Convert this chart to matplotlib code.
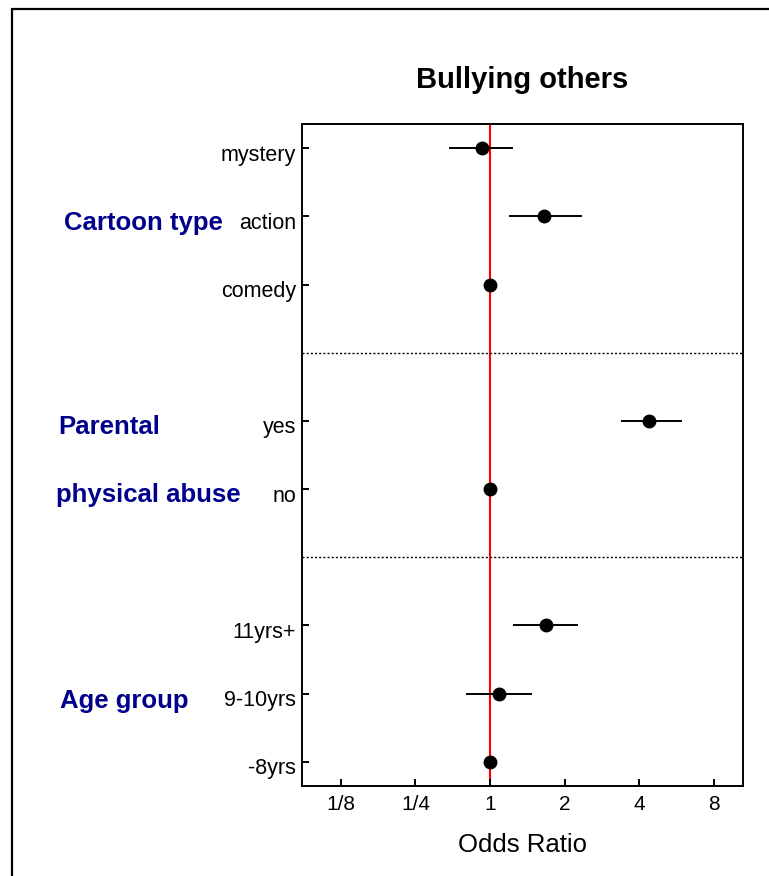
import numpy as np
import matplotlib.pyplot as plt
from matplotlib.patches import Rectangle
from matplotlib.transforms import ScaledTranslation

plt.rcParams['font.family'] = ['Liberation Sans', 'DejaVu Sans']

# ============================================================
# DATA (odds ratios and 95% CI)
# ============================================================
rows = ["mystery", "action", "comedy", "", "yes", "no", "", "11yrs+", "9-10yrs", "-8yrs"]
odds = [0.93, 1.65, 1.0, None, 4.39, 1.0, None, 1.68, 1.09, 1.0]
ci_low = [0.69, 1.20, None, None, 3.39, None, None, 1.25, 0.81, None]
ci_high = [1.23, 2.32, None, None, 5.87, None, None, 2.24, 1.46, None]

separators = [3, 6]

groups = ["Cartoon type", "Parental", "physical abuse", "Age group"]

x_ticks = [0.25, 0.5, 1, 2, 4, 8]
x_tick_labels = ["1/8", "1/4", "1", "2", "4", "8"]

# ============================================================
# FIGURE
# ============================================================
fig = plt.figure(figsize=(7.69, 8.76), dpi=100)
ax = fig.add_axes([0.3923, 0.1031, 0.5735, 0.755])

# outer frame of the picture
fig.patches.append(Rectangle((12 / 769, -0.1), 1.2, 1.1 - 9 / 876,
                             transform=fig.transFigure, fill=False,
                             edgecolor="black", linewidth=1.6))

ax.set_xscale("log", base=2)
ax.axvline(1, color="red", linewidth=1.5, zorder=1)

for y in separators:
    ax.axhline(y, color="black", linestyle=(0, (1.5, 1.5)), linewidth=1.0)

for i, name in enumerate(rows):
    if odds[i] is None:
        continue
    if ci_low[i] is not None:
        ax.plot([ci_low[i], ci_high[i]], [i, i], color="black", linewidth=1.4, zorder=2)
    ax.plot(odds[i], i, "o", color="black", markersize=9, zorder=3)

ax.set_xlim(0.174, 10.43)
ax.set_ylim(9.35, -0.35)

tick_pos = [i for i, name in enumerate(rows) if name]
ax.set_yticks(tick_pos)
ax.set_yticklabels([rows[i] for i in tick_pos], fontsize=15.5)
ax.set_xticks(x_ticks)
ax.set_xticklabels(x_tick_labels, fontsize=15)
ax.minorticks_off()

ax.tick_params(axis="y", direction="in", length=5, width=1.4, pad=4)
ax.tick_params(axis="x", direction="in", length=5, width=1.4, pad=7)
for side in ax.spines.values():
    side.set_linewidth(1.4)

# labels sit a little below their ticks in the original
shift = ScaledTranslation(0, -0.045, fig.dpi_scale_trans)
for lbl in ax.get_yticklabels():
    lbl.set_transform(lbl.get_transform() + shift)

fig.text(0.679, 0.9087, "Bullying others", ha="center", va="center",
         fontsize=21, fontweight="bold")
fig.text(0.679, 0.0354, "Odds Ratio", ha="center", va="center", fontsize=18.5)

# group labels on the left
group_x = [64, 58, 56, 60]
group_y = [223, 427, 495, 701]
for label, gx, gy in zip(groups, group_x, group_y):
    fig.text(gx / 769, 1 - gy / 876, label, ha="left", va="center",
             fontsize=18.5, fontweight="bold", color="#00008B")

fig.savefig("out.png", dpi=100)
